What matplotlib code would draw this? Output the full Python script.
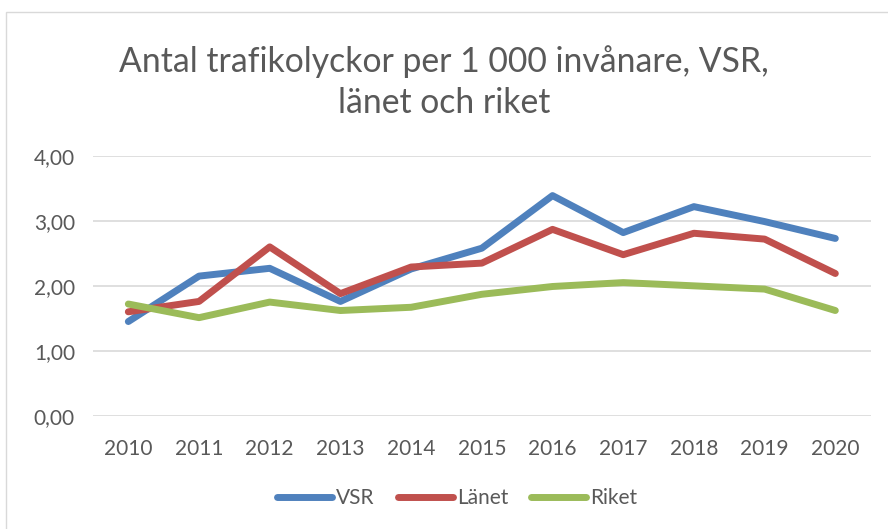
import numpy as np
import matplotlib
matplotlib.use("Agg")
from matplotlib import pyplot as plt
from matplotlib.patches import Rectangle

# antal trafikolyckor per 1 000 invanare
years = [2010, 2011, 2012, 2013, 2014, 2015, 2016, 2017, 2018, 2019, 2020]
vsr = [1.45, 2.15, 2.27, 1.76, 2.26, 2.58, 3.39, 2.82, 3.22, 2.99, 2.73]
lanet = [1.60, 1.76, 2.60, 1.88, 2.29, 2.35, 2.87, 2.48, 2.81, 2.72, 2.19]
riket = [1.72, 1.51, 1.75, 1.62, 1.67, 1.87, 1.99, 2.05, 2.00, 1.95, 1.62]
series_names = ["VSR", "Länet", "Riket"]
colors = ["#4f81bd", "#c0504d", "#9bbb59"]
yticks = [0, 1, 2, 3, 4]

plt.rcParams['font.family'] = ['Lato', 'DejaVu Sans']
txt = "#595959"

fig = plt.figure(figsize=(8.88, 5.29), dpi=100)
ax = fig.add_axes([0.1047, 0.2142, 0.9805 - 0.1047, 0.7051 - 0.2142])

x = np.arange(len(years))
for vals, name, c in zip([vsr, lanet, riket], series_names, colors):
    ax.plot(x, vals, color=c, lw=5, label=name, solid_capstyle='round', solid_joinstyle='round')

ax.set_xlim(-0.5, len(years) - 0.5)
ax.set_ylim(0, 4)
ax.set_yticks(yticks)
ax.set_yticklabels([f"{v:.2f}".replace(".", ",") for v in yticks])
ax.set_xticks(x)
ax.set_xticklabels([str(y) for y in years])
ax.grid(axis='y', color='#d9d9d9', lw=1.2)
ax.set_axisbelow(True)
for s in ax.spines.values():
    s.set_visible(False)
ax.tick_params(length=0, colors=txt, labelsize=15)
ax.tick_params(axis='y', pad=13)
ax.tick_params(axis='x', pad=17)

fig.text(0.5, 0.883, "Antal trafikolyckor per 1 000 invånare, VSR,", ha='center', va='center',
         fontsize=24.3, color=txt)
fig.text(0.5, 0.805, "länet och riket", ha='center', va='center', fontsize=24.3, color=txt)

leg = fig.legend(loc='center', bbox_to_anchor=(0.515, 0.058), ncol=3, frameon=False,
                 fontsize=15, handlelength=2.64, columnspacing=1.1, handletextpad=0.2)
for t in leg.get_texts():
    t.set_color(txt)

fig.patches.append(Rectangle((6 / 888, -0.1), 2, 1 - 12 / 529 + 0.1, transform=fig.transFigure,
                             fill=False, edgecolor='#d9d9d9', lw=1))

fig.savefig("out.png", dpi=100, facecolor='white')
